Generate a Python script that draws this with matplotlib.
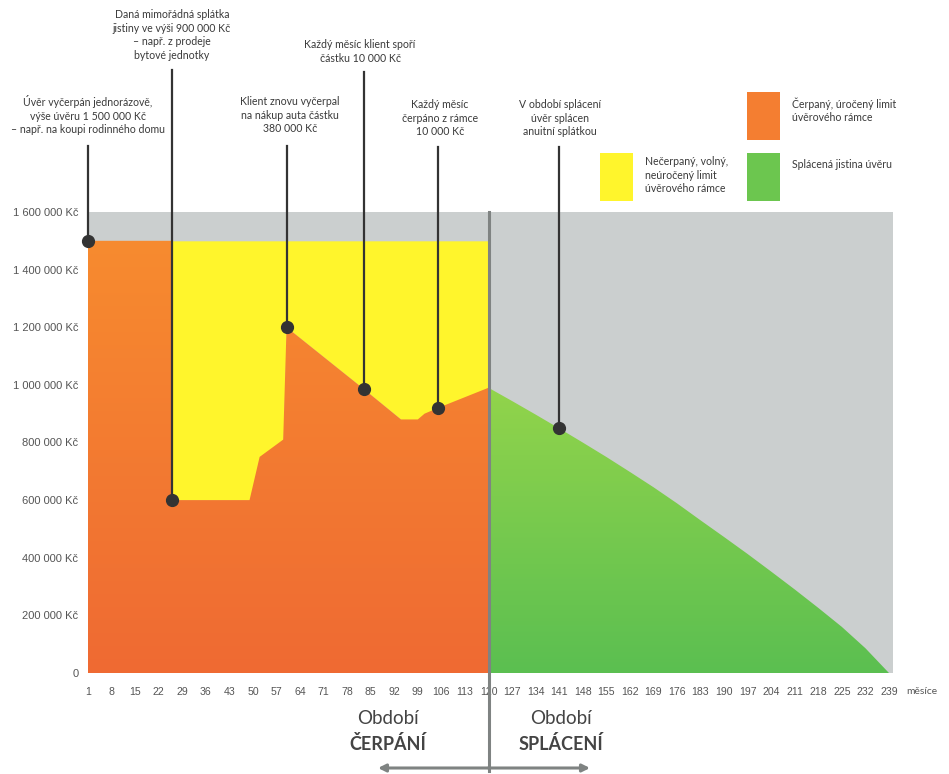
import numpy as np
import matplotlib
matplotlib.use("Agg")
import matplotlib.pyplot as plt
from matplotlib.colors import LinearSegmentedColormap
from matplotlib.patches import PathPatch, Rectangle, FancyArrowPatch
from matplotlib.lines import Line2D

# čerpání úvěrového rámce (měsíc, vyčerpaná částka)
draw_months = [1, 26, 26, 49, 52, 59, 60, 83, 94, 99, 101, 105, 120]
draw_values = [1500000, 1500000, 600000, 600000, 750000, 810000, 1200000,
               985000, 880000, 880000, 900000, 920000, 990000]

# splácení anuitou
repay_months = [120, 127, 134, 141, 148, 155, 162, 169, 176, 183, 190, 197,
                204, 211, 218, 225, 232, 239]
repay_values = [990000, 944000, 897000, 849000, 800000, 750000, 698000, 645000,
                589000, 530000, 472000, 413000, 352000, 290000, 226000, 160000,
                86000, 0]

credit_limit = 1500000
y_max = 1600000
x_ticks = list(range(1, 240, 7))
y_ticks = [0, 200000, 400000, 600000, 800000, 1000000, 1200000, 1400000, 1600000]

W, H = 949, 774
fig = plt.figure(figsize=(W / 100, H / 100), dpi=100)
ax = fig.add_axes([88 / W, (H - 673) / H, (893 - 88) / W, 461 / H])

FONT = ["Lato", "DejaVu Sans"]
TXT = "#3a3a3a"


def gradient_fill(x, y, c_top, c_bot, top):
    poly = ax.fill_between(x, y, 0, color="none", lw=0)
    path = poly.get_paths()[0]
    clip = PathPatch(path, transform=ax.transData, fc="none", ec="none")
    ax.add_patch(clip)
    cmap = LinearSegmentedColormap.from_list("g", [c_bot, c_top])
    grad = np.linspace(0, 1, 256).reshape(-1, 1)
    im = ax.imshow(grad, cmap=cmap, aspect="auto", origin="lower",
                   extent=[x[0], x[-1], 0, top], zorder=2, interpolation="bilinear")
    im.set_clip_path(clip)


# šedé pozadí
ax.add_patch(Rectangle((1, 0), 240.2 - 1, y_max, color="#cbcfcf", lw=0, zorder=0))

# volný limit (žlutá) mezi čerpáním a limitem
ax.fill_between(draw_months, draw_values, credit_limit, color="#fff52c", lw=0, zorder=1)
gradient_fill(draw_months, draw_values, "#f78b2f", "#ef6a33", credit_limit)
gradient_fill(repay_months, repay_values, "#92d44b", "#5bbf51", repay_values[0])

ax.set_xlim(1, 240.2)
ax.set_ylim(0, y_max)
for s in ax.spines.values():
    s.set_visible(False)

ax.set_xticks(x_ticks)
ax.set_xticklabels([str(t) for t in x_ticks], fontsize=7.6, color="#555555",
                   family="Liberation Sans")
ax.set_yticks(y_ticks)
ax.set_yticklabels(["0"] + [f"{v:,}".replace(",", " ") + " Kč" for v in y_ticks[1:]],
                   fontsize=8, color="#555555", family="Liberation Sans")
ax.tick_params(length=0, pad=7)
ax.tick_params(axis="x", pad=10)


def px_y(py):
    # pixel row -> data value (for leader line ends above the axes)
    return (673 - py) * y_max / 461


# popisky s tečkami
notes = [
    (draw_months[0], draw_values[0], 146,
     "Úvěr vyčerpán jednorázově,\nvýše úvěru 1 500 000 Kč\n– např. na koupi rodinného domu", 88, 95),
    (draw_months[2], draw_values[2], 70,
     "Daná mimořádná splátka\njistiny ve výši 900 000 Kč\n– např. z prodeje\nbytové jednotky", 172, 9),
    (draw_months[6], draw_values[6], 146,
     "Klient znovu vyčerpal\nna nákup auta částku\n380 000 Kč", 290, 96),
    (draw_months[7], draw_values[7], 72,
     "Každý měsíc klient spoří\nčástku 10 000 Kč", 360, 39),
    (draw_months[11], draw_values[11], 147,
     "Každý měsíc\nčerpáno z rámce\n10 000 Kč", 440, 99),
    (repay_months[3], repay_values[3], 147,
     "V období splácení\núvěr splácen\nanuitní splátkou", 560, 99),
]
for mx, my, top, text, tx, ty in notes:
    ax.plot([mx, mx], [my, px_y(top)], color="#333333", lw=1.6, clip_on=False, zorder=5)
    ax.plot(mx, my, "o", color="#333333", ms=8.5, clip_on=False, zorder=6)
    fig.text(tx / W, 1 - ty / H, text, ha="center", va="top", fontsize=7.6,
             color=TXT, family=FONT, linespacing=1.3)

# legenda
legend = [
    ((747, 92), "#f47e31", (792, 97), "Čerpaný, úročený limit\núvěrového rámce"),
    ((600, 153), "#fff52c", (645, 156), "Nečerpaný, volný,\nneúročený limit\núvěrového rámce"),
    ((747, 153), "#6cc64f", (792, 159), "Splácená jistina úvěru"),
]
for (px, py), col, (lx, ly), text in legend:
    fig.add_artist(Rectangle((px / W, 1 - (py + 48) / H), 33 / W, 48 / H,
                             transform=fig.transFigure, color=col, lw=0))
    fig.text(lx / W, 1 - ly / H, text, ha="left", va="top", fontsize=7.6,
             color=TXT, family=FONT, linespacing=1.3)

fig.text(906 / W, 1 - 691 / H, "měsíce", ha="left", va="center", fontsize=7.4,
         color="#555555", family=FONT)

# dělicí čára a šipky období
xd = 488.5 / W
fig.add_artist(Line2D([xd, xd], [1 - 212 / H, 1 - 771 / H], transform=fig.transFigure,
                      color="#7f8382", lw=2.2, zorder=10))
ya = 1 - 768 / H
for x_end in (378, 590):
    fig.add_artist(FancyArrowPatch((xd, ya), (x_end / W, ya), transform=fig.transFigure,
                                   arrowstyle="-|>", mutation_scale=11, color="#7f8382",
                                   lw=2.2, shrinkA=0, shrinkB=0, zorder=10))

for cx, word in ((388, "ČERPÁNÍ"), (561, "SPLÁCENÍ")):
    fig.text(cx / W, 1 - 718 / H, "Období", ha="center", va="center", fontsize=13.5,
             color="#444444", family=FONT)
    fig.text(cx / W, 1 - 744 / H, word, ha="center", va="center", fontsize=13,
             color="#444444", family=FONT, fontweight="bold")

fig.savefig("out.png", dpi=100, facecolor="white")
